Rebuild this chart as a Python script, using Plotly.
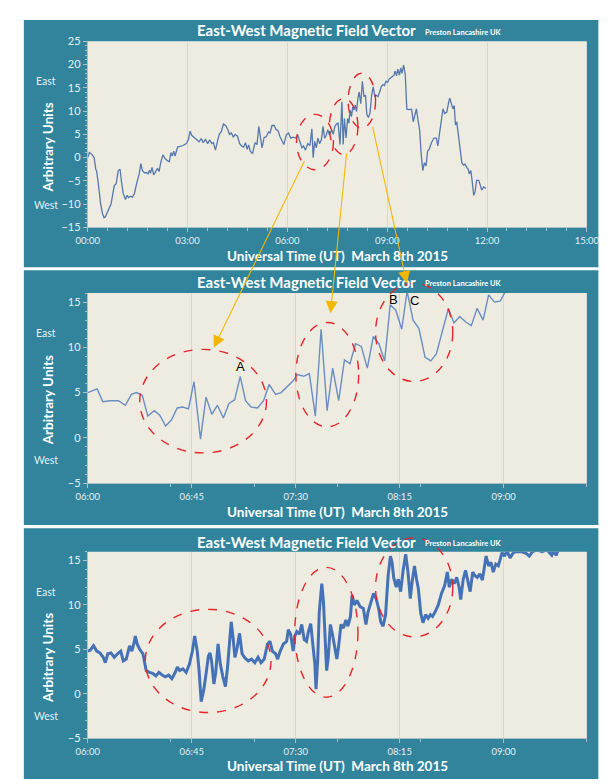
import pandas as pd
import plotly.graph_objects as go

# ---------------- data ----------------
# Top chart: minutes after 00:00 UT, arbitrary units
top_minutes = [0, 3, 7.6, 11.6, 14.5, 16, 19.1, 23.2, 26.6, 29.5, 31.8, 36.4, 42.2, 47.9, 51.4, 54.9, 58.3,
               60.6, 64, 68.1, 71, 73.8, 76.7, 80.7, 84.2, 88.2, 92.8, 95.8, 98.6, 102.7, 105.6, 108.5, 111.4,
               113.1, 116, 118.9, 122.9, 125.8, 128.7, 131.6, 135.6, 139.1, 143.1, 147.2, 150, 152.3, 155.2,
               157.5, 162.1, 166.2, 171.9, 177.7, 181.7, 184.6, 187.5, 192.1, 196.2, 200.8, 204.8, 208.3,
               212.4, 216.4, 219.8, 223.9, 226.8, 230.3, 233.7, 237.2, 240.6, 244.7, 248.7, 252.7, 255.6,
               259.1, 262.5, 266, 270, 274.1, 277.5, 281, 284.4, 287.3, 290.2, 293.1, 297.1, 301.7, 305.2,
               308.6, 311.5, 314.4, 317.9, 321.9, 325.9, 328.8, 332.3, 336.3, 339.8, 343.2, 346.7, 350.7,
               353.6, 358, 362, 366.1, 370.7, 374.7, 378.8, 382.2, 386.3, 389.2, 392.6, 396.7, 400.7, 404.2,
               406.5, 409.3, 412.2, 415.1, 418, 421.4, 424.3, 427.2, 430.1, 433, 435.8, 439.9, 442.7, 445.6,
               448.5, 451.4, 454.9, 458.3, 460.6, 462.9, 465.8, 468.7, 471, 473.3, 475.6, 477.9, 480.2,
               482.5, 484.8, 487.1, 489.4, 492.3, 495.2, 498.1, 500.9, 503.2, 506.1, 509, 511.9, 514.8,
               517.7, 520.6, 523.5, 526.3, 529.2, 532.1, 535, 537.9, 540.8, 543.7, 546.5, 549.4, 552.3, 554,
               556.9, 559.2, 562.1, 564.4, 566.7, 569.6, 572.5, 575.4, 579.4, 584, 586.9, 589.8, 592.7,
               595.5, 598.4, 601.3, 604.2, 607.1, 610, 612.9, 615.8, 619.8, 624.4, 628.5, 631.3, 634.8,
               637.7, 640.6, 643.5, 647.5, 650.4, 652.7, 655.6, 658.5, 660.8, 663.1, 665.4, 668.9, 671.8,
               674.6, 677.5, 680.4, 683.3, 686.2, 687.9, 690.8, 693.7, 696, 698.3, 701.2, 705.2, 707.5,
               710.4, 713.9, 718]
top_values = [0.0, 1.1, 0.7, 0.0, -2.5, -2.85, -5.6, -9.9, -12.0, -12.9, -12.7, -11.5, -9.9, -6.0, -5.6,
              -2.85, -2.5, -4.9, -7.7, -9.0, -8.1, -8.6, -8.3, -8.5, -7.7, -5.6, -3.5, -1.3, -2.8, -3.3,
              -3.2, -3.5, -2.7, -3.4, -2.1, -3.7, -2.8, -2.3, -3.0, -1.1, 0.6, -0.15, -0.6, -0.9, 1.1, 0.35,
              1.4, 0.35, 2.25, 2.4, 2.6, 3.0, 3.9, 5.7, 4.8, 4.3, 3.9, 3.4, 4.1, 3.2, 3.9, 3.0, 3.8, 3.0,
              3.2, 1.6, 3.4, 5.0, 5.5, 7.2, 6.9, 6.0, 5.0, 5.3, 4.4, 5.0, 4.6, 3.0, 2.5, 2.25, 3.2, 1.8,
              2.7, 1.4, 0.85, 3.2, 2.8, 6.7, 4.3, 2.1, 4.3, 4.5, 5.5, 5.3, 6.9, 6.9, 6.0, 5.8, 4.5, 3.4,
              2.8, 4.9, 5.3, 4.2, 4.4, 4.2, 4.9, 3.5, 2.1, 2.5, 1.6, 3.0, 2.6, 6.2, 0.0, 3.5, 2.1, 4.2,
              3.0, 3.9, 6.7, 4.2, 4.8, 6.0, 4.9, 5.9, 5.0, 6.7, 7.2, 7.4, 2.8, 12.0, 2.8, 8.4, 4.2, 8.4,
              7.4, 10.2, 8.8, 10.9, 10.2, 11.3, 9.9, 12.7, 14.1, 11.6, 16.4, 13.1, 13.4, 9.3, 8.6, 9.6,
              13.4, 15.2, 13.1, 13.4, 13.1, 14.1, 15.2, 15.7, 15.5, 16.4, 16.2, 16.9, 17.2, 17.6, 17.7,
              18.6, 17.6, 19.0, 17.7, 19.3, 18.1, 19.9, 17.9, 10.4, 10.3, 10.4, 7.7, 9.1, 10.5, 8.1, 6.0,
              0.7, -2.8, -1.1, -1.8, 1.4, 1.8, 3.2, 4.2, 4.2, 2.5, 5.6, 7.7, 10.5, 9.5, 9.8, 11.6, 12.8,
              11.6, 10.5, 11.2, 7.0, 7.7, 4.2, 1.4, -1.1, -1.6, -1.4, -2.1, -2.5, -3.5, -2.8, -5.6, -8.1,
              -7.4, -4.9, -4.9, -6.0, -7.0, -6.3, -6.6]

# Middle chart: minutes after 06:00 UT
mid_minutes = [0, 4.1, 6.5, 9.8, 13.3, 16.3, 18.9, 21.1, 23.6, 26.0, 28.8, 31.2, 33.7, 36.3, 38.7, 41.1,
               43.6, 46.0, 48.8, 51.2, 53.7, 56.1, 58.7, 61.1, 63.6, 66.0, 68.3, 70.7, 73.5, 76.1, 78.5,
               81.3, 83.7, 86.5, 88.9, 90.7, 93.5, 95.9, 98.5, 101.0, 103.6, 106.0, 108.6, 111.1, 113.5,
               115.9, 118.4, 121.0, 123.6, 126.0, 128.5, 130.9, 133.3, 135.9, 138.2, 140.8, 143.3, 146.0,
               148.5, 150.9, 153.5, 156.1, 158.5, 161.0, 163.6, 166.0, 168.5, 171.1, 173.5, 176.0, 178.5,
               181.0, 183.5]
mid_values = [5.0, 5.4, 4.0, 4.1, 4.1, 3.6, 4.8, 5.0, 4.7, 2.4, 3.0, 2.5, 1.3, 2.0, 3.3, 3.4, 3.2, 6.2,
              -0.15, 4.5, 2.6, 3.6, 2.2, 3.8, 4.2, 6.8, 4.1, 3.4, 3.3, 4.1, 5.9, 4.8, 5.0, 5.65, 6.3, 7.0,
              6.8, 7.1, 2.4, 12.0, 3.0, 7.7, 4.1, 8.6, 8.2, 10.4, 10.1, 7.7, 11.2, 10.4, 8.5, 14.7, 14.1,
              12.0, 16.2, 13.0, 12.1, 8.9, 8.5, 9.3, 11.9, 14.3, 12.7, 13.4, 12.8, 12.4, 14.3, 13.0, 15.8,
              15.0, 15.1, 16.2, 17.5]

# Bottom chart: minutes after 06:00 UT (higher cadence record)
bot_minutes = [0, 1.1, 2.5, 3.9, 5.3, 6.7, 7.6, 8.7, 10.1, 11.5, 12.9, 14.3, 15.4, 16.7, 18.1, 19.1, 20.1,
               20.6, 21.4, 22.5, 23.9, 24.6, 25.3, 26.7, 28.1, 29.5, 30.8, 32.2, 33.6, 35.0, 36.4, 37.7,
               38.8, 39.8, 41.2, 42.6, 44.0, 45.3, 46.3, 47.4, 48.2, 49.1, 50.2, 51.3, 52.2, 52.9, 53.6,
               54.6, 55.4, 56.4, 57.4, 58.5, 59.6, 60.5, 61.2, 62.1, 62.9, 63.7, 64.7, 65.7, 66.8, 68.1,
               69.5, 70.9, 72.3, 73.7, 75.0, 76.4, 77.8, 78.9, 79.9, 81.3, 82.2, 83.3, 84.7, 86.1, 86.8,
               87.8, 88.9, 89.6, 90.5, 91.6, 92.6, 93.7, 94.7, 95.5, 96.5, 97.4, 98.3, 98.8, 99.5, 100.2,
               100.9, 101.3, 102.0, 102.7, 103.4, 104.1, 105.0, 105.9, 106.8, 107.8, 108.5, 109.6, 110.7,
               111.7, 112.6, 113.7, 114.4, 115.4, 116.5, 117.9, 119.3, 120.4, 121.3, 122.7, 123.7, 124.8,
               125.9, 126.8, 127.8, 128.9, 130.0, 131.0, 131.7, 132.4, 133.5, 134.4, 135.4, 136.5, 137.6,
               138.6, 139.6, 140.4, 141.4, 142.3, 143.1, 144.1, 145.1, 146.2, 147.3, 148.3, 149.2, 150.3,
               151.7, 153.1, 154.5, 155.6, 156.5, 157.5, 158.6, 159.7, 160.7, 161.4, 162.5, 163.5, 164.4,
               165.5, 166.6, 167.6, 168.6, 169.7, 170.8, 171.7, 172.4, 173.5, 174.5, 175.5, 176.6, 177.7,
               178.7, 179.3, 180.4, 181.4, 182.8, 184.2, 185.6, 187.6, 189.7, 191.1, 192.5, 194.5, 196.6,
               198.7, 200.8, 201.4, 202.8, 203.5, 204.5]
bot_values = [4.8, 4.9, 5.4, 4.8, 4.6, 4.1, 3.5, 4.5, 4.6, 4.1, 4.5, 4.8, 3.7, 3.9, 5.4, 4.8, 5.8, 6.5,
              5.6, 5.0, 4.5, 3.5, 2.6, 2.4, 2.3, 2.0, 2.4, 2.1, 1.9, 2.1, 1.7, 2.3, 3.0, 2.6, 2.8, 2.4, 3.3,
              4.8, 6.5, 4.8, 2.6, -0.9, 0.4, 2.4, 4.2, 4.6, 3.7, 1.1, 2.4, 5.6, 3.3, 1.9, 0.8, 3.0, 5.6, 8.1,
              6.3, 4.1, 5.2, 6.8, 4.5, 4.0, 3.7, 3.9, 3.5, 4.1, 3.5, 3.9, 5.6, 5.9, 4.8, 4.5, 3.9, 4.8, 5.6,
              5.9, 7.2, 6.7, 4.8, 6.5, 7.0, 6.7, 7.8, 6.1, 5.9, 7.0, 7.9, 5.9, 3.3, 0.5, 3.7, 9.2, 11.5,
              12.4, 10.4, 5.6, 2.6, 4.1, 7.8, 6.7, 5.2, 3.9, 5.2, 7.8, 7.4, 8.3, 7.6, 8.7, 11.1, 10.0,
              10.5, 9.8, 9.6, 7.8, 9.2, 10.3, 11.3, 10.7, 9.6, 8.1, 7.6, 8.9, 13.3, 15.5, 14.8, 13.1, 12.0,
              12.9, 11.5, 13.9, 15.7, 13.7, 10.7, 12.6, 14.4, 12.9, 11.8, 9.1, 8.0, 8.9, 8.5, 8.9, 8.7,
              9.2, 10.0, 11.3, 12.2, 13.7, 12.0, 12.9, 12.4, 13.1, 12.0, 10.6, 12.9, 13.9, 12.8, 11.5,
              13.7, 13.3, 13.1, 13.5, 12.8, 14.4, 15.5, 14.4, 14.8, 13.7, 14.6, 14.4, 15.3, 15.9, 15.5,
              16.1, 15.3, 15.9, 16.0, 16.0, 15.8, 15.5, 16.0, 16.2, 16.0, 16.2, 15.6, 16.0, 15.6, 16.1,
              17.0]

y_ticks_top = [-15, -10, -5, 0, 5, 10, 15, 20, 25]
y_ticks_zoom = [-5, 0, 5, 10, 15]

# ---------------- helpers ----------------
W, H = 612, 784
DAY = pd.Timestamp("2015-03-08 00:00")


def X(px):
    return px / W


def Y(py):
    return 1 - py / H


def to_time(minutes, start_min=0):
    return [DAY + pd.Timedelta(minutes=start_min + m) for m in minutes]


TEAL = "#31849B"
PLOT_BG = "#EEECE1"
LABEL = "#E4F1F5"
GRID = "#DAD7CB"
AXC = "#A9C0C7"
FONT = "Lato, 'Open Sans', sans-serif"

fig = go.Figure()

fig.add_trace(go.Scatter(x=to_time(top_minutes), y=top_values, mode="lines",
                         line=dict(color="#5578AE", width=1.3), xaxis="x", yaxis="y",
                         showlegend=False))
fig.add_trace(go.Scatter(x=to_time(mid_minutes, 360), y=mid_values, mode="lines",
                         line=dict(color="#6A8DC2", width=1.4), xaxis="x2", yaxis="y2",
                         showlegend=False))
fig.add_trace(go.Scatter(x=to_time(bot_minutes, 360), y=bot_values, mode="lines",
                         line=dict(color="#4572B6", width=3.0), xaxis="x3", yaxis="y3",
                         showlegend=False))

# panel geometry (pixels)
panels = [
    dict(top=5, bottom=256.5, ptop=26.7, pbot=216.0, title_y=15.5, sub_y=17.5, xt_y=245,
         ytitle_y=135, east_y=67, west_y=193),
    dict(top=259.5, bottom=518.5, ptop=282.7, pbot=476.0, title_y=271.5, sub_y=273.5, xt_y=505,
         ytitle_y=392, east_y=323, west_y=453),
    dict(top=522, bottom=777, ptop=545.7, pbot=735.3, title_y=535.5, sub_y=537, xt_y=764,
         ytitle_y=654, east_y=587, west_y=713),
]
PL, PR = 70.6, 591.0

shapes = []
annotations = []
for p in panels:
    shapes.append(dict(type="rect", xref="paper", yref="paper", x0=X(4), x1=X(603),
                       y0=Y(p["bottom"]), y1=Y(p["top"]), fillcolor=TEAL, line=dict(width=0),
                       layer="below"))
    shapes.append(dict(type="rect", xref="paper", yref="paper", x0=X(PL), x1=X(PR),
                       y0=Y(p["pbot"]), y1=Y(p["ptop"]), fillcolor=PLOT_BG, line=dict(width=0),
                       layer="below"))
    annotations += [
        dict(text="<b>East-West Magnetic Field Vector</b>", x=X(415), y=Y(p["title_y"]),
             xanchor="right", yanchor="middle", font=dict(size=15, color="white", family=FONT)),
        dict(text="<b>Preston Lancashire UK</b>", x=X(420), y=Y(p["sub_y"]),
             xanchor="left", yanchor="middle", font=dict(size=7.5, color="white", family=FONT)),
        dict(text="<b>Universal Time (UT)\u00a0 March 8th 2015</b>", x=X(331), y=Y(p["xt_y"]),
             xanchor="center", yanchor="middle", font=dict(size=13.5, color="white", family=FONT)),
        dict(text="<b>Arbitrary Units</b>", x=X(29), y=Y(p["ytitle_y"]), textangle=-90,
             xanchor="center", yanchor="middle", font=dict(size=13.5, color="white", family=FONT)),
        dict(text="East", x=X(27), y=Y(p["east_y"]), xanchor="center", yanchor="middle",
             font=dict(size=10.5, color=LABEL, family=FONT)),
        dict(text="West", x=X(27), y=Y(p["west_y"]), xanchor="center", yanchor="middle",
             font=dict(size=10.5, color=LABEL, family=FONT)),
    ]

# red dashed ellipses (pixel boxes)
ellipses = [
    (288.3, 326.8, 101, 157.3), (322.5, 352.3, 85, 141.7), (342.1, 370.7, 59.3, 115),
    (124.8, 257.0, 340, 445.3), (287.6, 353.1, 312.7, 418.7), (370.7, 451.2, 272.7, 372.7),
    (130.6, 261.7, 604.3, 709.3), (286.4, 352.3, 561.7, 693.7), (370.7, 451.2, 531.7, 632.3),
]
for x0, x1, y0, y1 in ellipses:
    shapes.append(dict(type="circle", xref="paper", yref="paper", x0=X(x0), x1=X(x1),
                       y0=Y(y1), y1=Y(y0), line=dict(color="#E3242B", width=1.4, dash="dash"),
                       layer="above"))

# yellow arrows: head (x, y) and tail (x, y) in pixels
arrows = [((202, 338.3), (293.4, 150)), ((323.7, 303.3), (340, 141.7)), ((403.3, 272.7), (368.8, 115))]
for (hx, hy), (tx, ty) in arrows:
    annotations.append(dict(text="", x=X(hx), y=Y(hy), xref="paper", yref="paper", showarrow=True,
                            ax=tx - hx, ay=ty - hy, arrowhead=2, arrowsize=2.2, arrowwidth=1.1,
                            arrowcolor="#F2B705", standoff=0))

for txt, px, py in [("A", 229.5, 357.7), ("B", 389.6, 289.3), ("C", 411, 290)]:
    annotations.append(dict(text=txt, x=X(px), y=Y(py), xanchor="center", yanchor="middle",
                            showarrow=False, font=dict(size=13, color="black", family="Liberation Sans, Arial")))

for a in annotations:
    a.setdefault("xref", "paper")
    a.setdefault("yref", "paper")
    a.setdefault("showarrow", False)

common_x = dict(type="date", tickformat="%H:%M", showgrid=True, gridcolor=GRID, gridwidth=1,
                ticks="outside", ticklen=4, tickcolor=AXC, showline=True, linecolor=AXC,
                tickfont=dict(size=9.5, color=LABEL, family=FONT), zeroline=False,
                minor=dict(dtick=36 * 60 * 1000, ticks="outside", ticklen=3, tickcolor=AXC,
                           showgrid=False),
                tick0=DAY, fixedrange=True)
common_y = dict(showgrid=False, zeroline=False, ticks="outside", ticklen=4, tickcolor=AXC,
                showline=True, linecolor=AXC,
                tickfont=dict(size=11, color=LABEL, family=FONT),
                minor=dict(dtick=1, ticks="outside", ticklen=2, tickcolor=AXC),
                fixedrange=True)

dom_x = [X(PL), X(PR)]
fig.update_layout(
    width=W, height=H, margin=dict(l=0, r=0, t=0, b=0),
    paper_bgcolor="white", plot_bgcolor=PLOT_BG,
    xaxis=dict(common_x, domain=dom_x, anchor="y", dtick=3 * 3600 * 1000,
               range=[DAY, DAY + pd.Timedelta(hours=15)]),
    yaxis=dict(common_y, domain=[Y(panels[0]["pbot"]), Y(panels[0]["ptop"])], anchor="x",
               range=[-15, 25], tickvals=y_ticks_top),
    xaxis2=dict(common_x, domain=dom_x, anchor="y2", dtick=45 * 60 * 1000,
                range=[DAY + pd.Timedelta(hours=6), DAY + pd.Timedelta(minutes=576)]),
    yaxis2=dict(common_y, domain=[Y(panels[1]["pbot"]), Y(panels[1]["ptop"])], anchor="x2",
                range=[-5, 16], tickvals=y_ticks_zoom),
    xaxis3=dict(common_x, domain=dom_x, anchor="y3", dtick=45 * 60 * 1000,
                range=[DAY + pd.Timedelta(hours=6), DAY + pd.Timedelta(minutes=576)]),
    yaxis3=dict(common_y, domain=[Y(panels[2]["pbot"]), Y(panels[2]["ptop"])], anchor="x3",
                range=[-5, 16], tickvals=y_ticks_zoom),
    shapes=shapes, annotations=annotations,
)

fig.write_html("out.html")
